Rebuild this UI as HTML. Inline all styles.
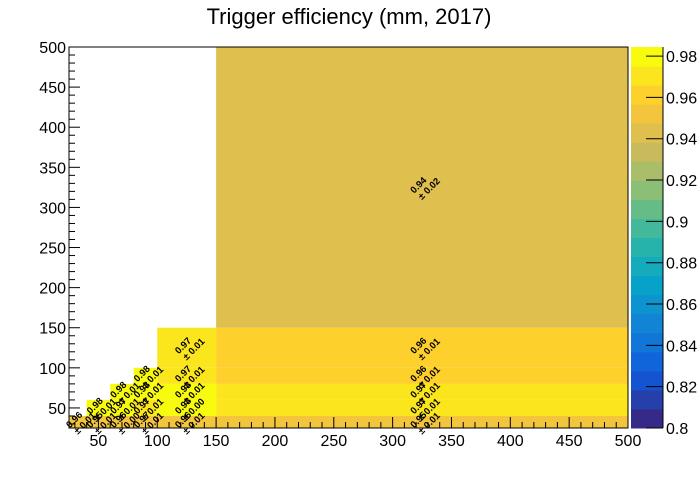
<!DOCTYPE html>
<html><head><meta charset="utf-8"><style>
body{margin:0;background:#fff;}
svg text{font-family:"Liberation Sans",sans-serif;}
</style></head><body>
<svg id="c" width="698" height="476" xmlns="http://www.w3.org/2000/svg">
<text x="349" y="24" font-size="22" text-anchor="middle">Trigger efficiency (mm, 2017)</text>
<g id="cells"></g><g id="labels"></g><g id="axes"></g><g id="cbar"></g>
</svg>
<script>
const xEdges=[25,40,60,80,100,150,500];
const yEdges=[25,40,60,80,100,150,500];
// cells: [xbin, ybin, value, error]
const cellX=[0,1,2,3,4,5, 1,2,3,4,5, 2,3,4,5, 3,4,5, 4,5, 5];
const cellY=[0,0,0,0,0,0, 1,1,1,1,1, 2,2,2,2, 3,3,3, 4,4, 5];
const cellVal=[0.95,0.95,0.95,0.95,0.95,0.95, 0.98,0.98,0.97,0.98,0.97, 0.98,0.98,0.98,0.97, 0.98,0.97,0.96, 0.97,0.96, 0.94];
const cellTxt=["0.96","0.95","0.96","0.97","0.96","0.95", "0.98","0.97","0.97","0.98","0.97", "0.98","0.98","0.98","0.97", "0.98","0.97","0.96", "0.97","0.96", "0.94"];
const cellErr=["0.01","0.01","0.00","0.01","0.01","0.01", "0.01","0.01","0.01","0.00","0.01", "0.01","0.01","0.01","0.01", "0.01","0.01","0.01", "0.01","0.01", "0.02"];
const xTicks=[50,100,150,200,250,300,350,400,450,500];
const yTicks=[50,100,150,200,250,300,350,400,450,500];
const zTicks=[0.8,0.82,0.84,0.86,0.88,0.9,0.92,0.94,0.96,0.98];
const zMin=0.8,zMax=0.9844,nBands=20;
const X0=69,X1=628,Y0=428,Y1=47;
const sx=v=>X0+(v-25)/(475)*(X1-X0);
const sy=v=>Y0-(v-25)/(475)*(Y0-Y1);
const CB0=631,CB1=663;
const sz=v=>Y0-(v-zMin)/(zMax-zMin)*(Y0-Y1);
const NS="http://www.w3.org/2000/svg";
const st=[0,0.125,0.25,0.375,0.5,0.625,0.75,0.875,1];
const R=[0.2082,0.0592,0.0780,0.0232,0.1802,0.5301,0.8186,0.9956,0.9764];
const G=[0.1664,0.3599,0.5041,0.6419,0.7178,0.7492,0.7328,0.7862,0.9832];
const B=[0.5293,0.8684,0.8385,0.7914,0.6425,0.4662,0.3499,0.1968,0.0539];
function pal(f){let i=0;while(i<7&&f>st[i+1])i++;const t=(f-st[i])/(st[i+1]-st[i]);
const c=a=>Math.round(255*(a[i]+(a[i+1]-a[i])*t));return `rgb(${c(R)},${c(G)},${c(B)})`;}
function band(v){let b=Math.floor((v-zMin)/(zMax-zMin)*nBands);b=Math.max(0,Math.min(nBands-1,b));return pal(b/(nBands-1));}
function el(t,a,p){const e=document.createElementNS(NS,t);for(const k in a)e.setAttribute(k,a[k]);p.appendChild(e);return e;}
const gc=document.getElementById('cells'),gl=document.getElementById('labels'),ga=document.getElementById('axes'),gb=document.getElementById('cbar');
for(let i=0;i<cellVal.length;i++){
 const xa=xEdges[cellX[i]],xb=xEdges[cellX[i]+1],ya=yEdges[cellY[i]],yb=yEdges[cellY[i]+1];
 const r=el('rect',{x:sx(xa),y:sy(yb),width:sx(xb)-sx(xa),height:sy(ya)-sy(yb),fill:band(cellVal[i])},gc);
 
 
 const cx=(sx(xa)+sx(xb))/2,cy=(sy(ya)+sy(yb))/2;
 const t=el('text',{x:0,y:0,'font-size':9.5,'font-weight':'bold','text-anchor':'middle',transform:`translate(${cx},${cy}) rotate(-45)`},gl);
 
 
 el('tspan',{x:-1,y:-1},t).textContent=cellTxt[i];
 el('tspan',{x:4,y:9},t).textContent='± '+cellErr[i];
}
el('rect',{x:X0,y:Y1,width:X1-X0,height:Y0-Y1,fill:'none',stroke:'#000','stroke-width':1},ga);
for(let v=30;v<=500;v+=10){const x=sx(v);const maj=v%50===0;el('line',{x1:x,x2:x,y1:Y0,y2:Y0-(maj?11:6),stroke:'#000'},ga);}
for(let v=30;v<=500;v+=10){const y=sy(v);const maj=v%50===0;el('line',{x1:X0,x2:X0+(maj?11:6),y1:y,y2:y,stroke:'#000'},ga);}
xTicks.forEach(v=>{const t=el('text',{x:sx(v),y:446,'font-size':16,'text-anchor':'middle'},ga);t.textContent=v;
 
 });
yTicks.forEach(v=>{const t=el('text',{x:X0-3,y:sy(v)+6,'font-size':16,'text-anchor':'end'},ga);t.textContent=v;
 
 });
for(let b=0;b<nBands;b++){const va=zMin+b*(zMax-zMin)/nBands,vb=zMin+(b+1)*(zMax-zMin)/nBands;
 const r=el('rect',{x:CB0,y:sz(vb),width:CB1-CB0,height:sz(va)-sz(vb)+0.5,fill:pal(b/(nBands-1))},gb);
 
 }
el('line',{x1:CB1,x2:CB1,y1:Y1,y2:Y0,stroke:'#000'},gb);
zTicks.forEach(v=>{const y=sz(v);el('line',{x1:CB1-17,x2:CB1,y1:y,y2:y,stroke:'#000'},gb);
 const t=el('text',{x:CB1+3,y:y+6,'font-size':16},gb);t.textContent=String(+v.toFixed(2));
 
 });
</script>
</body></html>
